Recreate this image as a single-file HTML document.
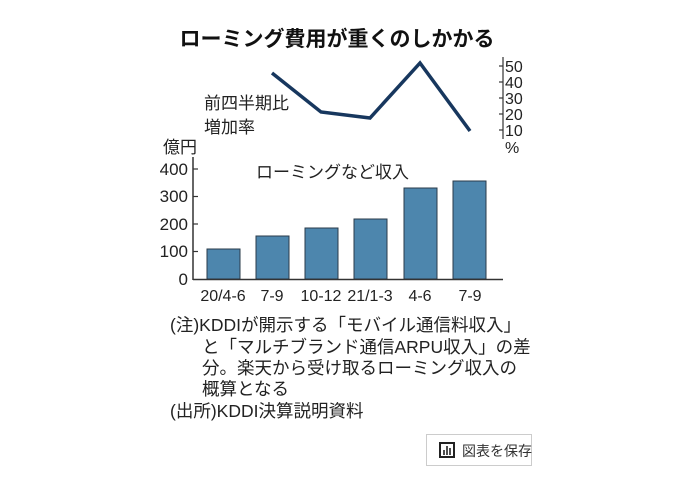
<!DOCTYPE html>
<html><head><meta charset="utf-8"><style>
body{margin:0;background:#fff;width:674px;height:486px;overflow:hidden;font-family:"Liberation Sans","Noto Sans CJK JP",sans-serif;color:#222}
.t{position:absolute;white-space:nowrap}
</style></head><body>
<div class="t" style="left:0;width:674px;text-align:center;top:23px;font-size:21px;font-weight:bold;color:#111">ローミング費用が重くのしかかる</div>
<svg width="674" height="486" style="position:absolute;left:0;top:0" font-family="Liberation Sans, Noto Sans CJK JP, sans-serif">
<g fill="#4d86ad" stroke="#2a3b4a" stroke-width="1">
<rect x="207" y="249" width="33" height="30"/>
<rect x="256" y="236" width="33" height="43"/>
<rect x="305" y="228" width="33" height="51"/>
<rect x="354" y="219" width="33" height="60"/>
<rect x="404" y="188" width="33" height="91"/>
<rect x="453" y="181" width="33" height="98"/>
</g>
<line x1="193" y1="157" x2="193" y2="280" stroke="#333" stroke-width="1.5"/>
<line x1="193" y1="279.5" x2="503" y2="279.5" stroke="#333" stroke-width="1.5"/>
<g stroke="#333" stroke-width="1.2">
<line x1="193" y1="169" x2="198" y2="169"/><line x1="193" y1="196.5" x2="198" y2="196.5"/><line x1="193" y1="224" x2="198" y2="224"/><line x1="193" y1="251.5" x2="198" y2="251.5"/>
<line x1="503" y1="57" x2="503" y2="139"/>
<line x1="499" y1="66" x2="503" y2="66"/><line x1="499" y1="82" x2="503" y2="82"/><line x1="499" y1="98" x2="503" y2="98"/><line x1="499" y1="114" x2="503" y2="114"/><line x1="499" y1="130" x2="503" y2="130"/>
</g>
<polyline points="272,73 321,112 370,118 420,63 470,131" fill="none" stroke="#17375e" stroke-width="3.5" stroke-linejoin="miter"/>
<g font-size="17" fill="#222" text-anchor="end">
<text x="188" y="175">400</text><text x="188" y="202">300</text><text x="188" y="230">200</text><text x="188" y="257">100</text><text x="188" y="285">0</text>
</g>
<g font-size="16" fill="#222" text-anchor="start">
<text x="505" y="72">50</text><text x="505" y="88">40</text><text x="505" y="104">30</text><text x="505" y="120">20</text><text x="505" y="136">10</text><text x="505" y="153">%</text>
</g>
<g font-size="16" fill="#222" text-anchor="middle">
<text x="223" y="301">20/4-6</text><text x="272" y="301">7-9</text><text x="321" y="301">10-12</text><text x="370" y="301">21/1-3</text><text x="420" y="301">4-6</text><text x="470" y="301">7-9</text>
</g>
<g font-size="17" fill="#222">
<text x="204" y="109">前四半期比</text><text x="204" y="133">増加率</text>
<text x="163" y="153">億円</text>
<text x="256" y="178">ローミングなど収入</text>
</g>
<g font-size="17.5" fill="#222">
<text x="170" y="331">(注)KDDIが開示する「モバイル通信料収入」</text>
<text x="202" y="353">と「マルチブランド通信ARPU収入」の差</text>
<text x="202" y="374">分。楽天から受け取るローミング収入の</text>
<text x="202" y="395">概算となる</text>
<text x="170" y="417">(出所)KDDI決算説明資料</text>
</g>
<rect x="426.5" y="434.5" width="105" height="31" fill="#fff" stroke="#ccc"/>
<rect x="440" y="443" width="14" height="14" fill="none" stroke="#222" stroke-width="2"/>
<g stroke="#222" stroke-width="1.6"><line x1="444" y1="450" x2="444" y2="455"/><line x1="447" y1="446" x2="447" y2="455"/><line x1="450" y1="448" x2="450" y2="455"/></g>
<text x="462" y="456" font-size="14" fill="#333">図表を保存</text>
</svg>
</body></html>
